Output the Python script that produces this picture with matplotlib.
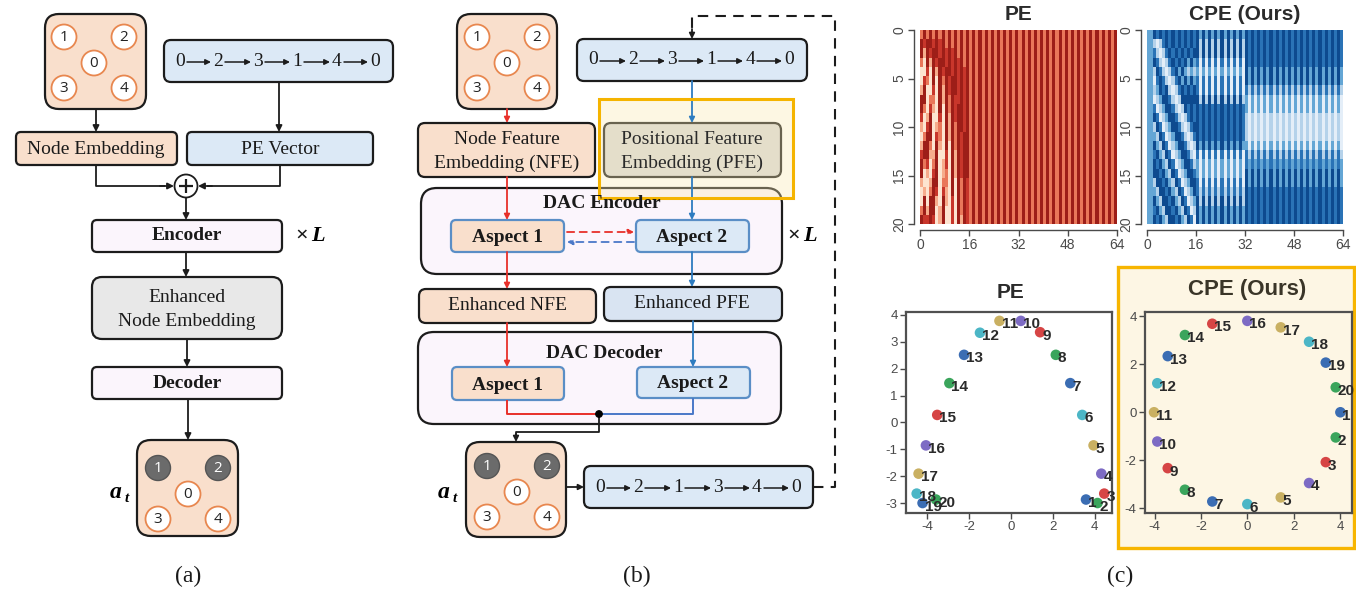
import matplotlib
matplotlib.use('Agg')
import matplotlib.pyplot as plt
from matplotlib.patches import FancyBboxPatch, Circle, Rectangle
from matplotlib.colors import ListedColormap
import numpy as np

plt.rcParams['axes.unicode_minus'] = False

# ---------------- data ----------------
graph_labels = ['1', '2', '0', '3', '4']
visited_labels = ['1', '2']
route_in = ['0', '2', '3', '1', '4', '0']
route_out = ['0', '2', '1', '3', '4', '0']

# PE heatmap (levels 0=light .. 4=dark), first 16 columns per row
pe_left_rows = [
    "2424242424242424", "4344343424242424", "4143443434342424", "2041434434343424",
    "0030414344343434", "0320404243443434", "1400304143443434", "4402204142433434",
    "4203104042434434", "3014003041434434", "1034012041424434", "0244032041424344",
    "1442041040424344", "3441140030414344", "4230240130414344", "4010340120414344",
    "1001440220404243", "0102430310404243", "0404410410304243", "2414401400304243",
    "4334301400304143",
]
pe_right_pair = "24"          # columns 16..63 stripe pair

# CPE heatmap
cpe_first_cols = "22"
cpe_left_rows = [
    "43434343434343", "10134343434343", "31013434343434", "43101343434242",
    "14310134242121", "03431013424242", "12434101343434", "01244310144444",
    "30124431014343", "43012443101343", "14301244310134", "21430124431013",
    "42143012443101", "34214301244310", "43421430124431", "44342143012443",
    "14434214301244", "21443421430124", "42144342143012", "34214434214301",
    "43421443421430",
]
cpe_mid_pairs = ["42", "41", "41", "30", "20", "30", "30", "41", "43", "43", "43",
                 "43", "42", "30", "20", "20", "30", "31", "41", "42", "42"]
cpe_right_pairs = ["43", "43", "43", "43", "42", "42", "31", "20", "20", "10", "10",
                   "10", "20", "31", "32", "42", "42", "43", "43", "43", "43"]

point_ids = list(range(1, 21))
pe_x = [3.59, 4.14, 4.46, 4.32, 3.95, 3.41, 2.84, 2.15, 1.40, 0.48,
        -0.54, -1.47, -2.23, -2.93, -3.51, -4.05, -4.40, -4.49, -4.21, -3.57]
pe_y = [-2.86, -2.99, -2.64, -1.90, -0.85, 0.28, 1.46, 2.51, 3.35, 3.77,
        3.77, 3.33, 2.51, 1.46, 0.28, -0.85, -1.90, -2.64, -2.99, -2.86]
cpe_x = [4.01, 3.81, 3.38, 2.66, 1.44, 0.00, -1.51, -2.69, -3.43, -3.88,
         -4.02, -3.88, -3.43, -2.69, -1.51, 0.00, 1.44, 2.66, 3.38, 3.81]
cpe_y = [0.00, -1.05, -2.08, -2.95, -3.55, -3.83, -3.72, -3.23, -2.33, -1.22,
         0.00, 1.21, 2.34, 3.22, 3.69, 3.81, 3.54, 2.94, 2.07, 1.04]

# ---------------- styles ----------------
PEACH = '#f9dfcc'
LBLUE = '#dce9f6'
LAV = '#fbf5fc'
GRAY = '#e8e8e8'
EDGE = '#1c1c1c'
RED = '#e8302a'
BLUE = '#2e7cc0'
ABLUE = '#5a8ec6'
SERIF = 'Liberation Serif'
SANS = 'Liberation Sans'
NODESANS = 'Open Sans'
palette = ['#3b6db3', '#3ba55c', '#d64545', '#7d6bc4', '#c9b062', '#4cb6c6']

W, H = 1356, 592
fig = plt.figure(figsize=(W / 100, H / 100), dpi=100)
ax = fig.add_axes([0, 0, 1, 1])
ax.set_xlim(0, W)
ax.set_ylim(H, 0)
ax.axis('off')


def rbox(x0, y0, x1, y1, fc, ec=EDGE, lw=1.6, r=7, z=2):
    p = FancyBboxPatch((x0, y0), x1 - x0, y1 - y0,
                       boxstyle=f"round,pad=0,rounding_size={r}",
                       fc=fc, ec=ec, lw=lw, zorder=z)
    ax.add_patch(p)


def arrow(x0, y0, x1, y1, color=EDGE, lw=1.3, ls='-', ms=9, z=5):
    ax.annotate('', xy=(x1, y1), xytext=(x0, y0),
                arrowprops=dict(arrowstyle='-|>', color=color, lw=lw,
                                mutation_scale=ms, shrinkA=0, shrinkB=0,
                                linestyle=ls), zorder=z)


def line(xs, ys, color=EDGE, lw=1.3, ls='-', z=5):
    ax.plot(xs, ys, color=color, lw=lw, ls=ls, zorder=z, solid_capstyle='butt')


def txt(x, y, s, size=14, weight='normal', family=SERIF, color='#1a1a1a', style='normal', z=7):
    ax.text(x, y, s, fontsize=size, fontweight=weight, family=family, color=color,
            ha='center', va='center', style=style, zorder=z)


def node(x, y, label, visited=False):
    if visited:
        ax.add_patch(Circle((x, y), 12.5, fc='#6b6b6b', ec='#555555', lw=1.0, zorder=4))
        txt(x, y + 0.5, label, size=11, family=NODESANS, color='white')
    else:
        ax.add_patch(Circle((x, y), 12.5, fc='white', ec='#e8874f', lw=1.3, zorder=4))
        txt(x, y + 0.5, label, size=11, family=NODESANS, color='#222222')


def graph(cx, cy, visited=()):
    offs = [(-30, -26), (30, -26), (0, 0), (-30, 25), (30, 25)]
    for lab, (dx, dy) in zip(graph_labels, offs):
        node(cx + dx, cy + dy, lab, lab in visited)


def seq(xs, y, labels):
    for i, (x, lab) in enumerate(zip(xs, labels)):
        txt(x, y, lab, size=14)
        if i < len(xs) - 1:
            arrow(x + 7, y + 1, xs[i + 1] - 7, y + 1, lw=1.1, ms=8)


def at_label(x, y):
    ax.text(x, y, 'a', fontsize=17, fontweight='bold', style='italic', family=SERIF,
            ha='center', va='center', zorder=7)
    ax.text(x + 11, y + 7, 't', fontsize=11, fontweight='bold', style='italic', family=SERIF,
            ha='center', va='center', zorder=7)


def times_L(x, y):
    txt(x, y, '×', size=16, weight='bold')
    ax.text(x + 16, y, 'L', fontsize=16, fontweight='bold', style='italic', family=SERIF,
            ha='center', va='center', zorder=7)


# ---------------- panel (a) ----------------
rbox(45, 14, 146, 109, PEACH, r=14)
graph(94, 63)
rbox(164, 40, 393, 82, LBLUE)
seq([180, 218, 258, 297, 337, 375], 61, route_in)
arrow(96, 109, 96, 132)
rbox(16, 132, 177, 165, PEACH, r=5)
txt(96, 149, 'Node Embedding')
rbox(187, 132, 373, 165, LBLUE, r=5)
txt(280, 149, 'PE Vector')
arrow(279, 82, 279, 132)
line([96, 96, 165], [165, 186, 186])
arrow(160, 186, 174, 186)
line([280, 280, 207], [165, 186, 186])
arrow(212, 186, 198, 186)
ax.add_patch(Circle((186, 186), 11.5, fc='white', ec=EDGE, lw=1.3, zorder=5))
line([179, 193], [186, 186], lw=1.6, z=6)
line([186, 186], [179, 193], lw=1.6, z=6)
arrow(186, 198, 186, 220)
rbox(92, 220, 282, 252, LAV, r=5)
txt(187, 236, 'Encoder', weight='bold')
times_L(302, 236)
arrow(186, 252, 186, 277)
rbox(92, 277, 282, 339, GRAY, r=10)
txt(187, 297, 'Enhanced')
txt(187, 322, 'Node Embedding')
arrow(187, 339, 187, 367)
rbox(92, 367, 282, 399, LAV, r=5)
txt(187, 384, 'Decoder', weight='bold')
arrow(188, 399, 188, 440)
rbox(137, 440, 238, 536, PEACH, r=14)
graph(188, 494, visited=visited_labels)
at_label(116, 492)
txt(188, 576, '(a)', size=17)

# ---------------- panel (b) ----------------
rbox(457, 14, 557, 109, PEACH, r=14)
graph(507, 63)
rbox(577, 39, 807, 81, LBLUE)
seq([593, 633, 672, 711, 750, 789], 60, route_in)
line([813, 835, 835, 692, 692], [487, 487, 16, 16, 31], ls=(0, (5, 3.5)), lw=1.5)
arrow(692, 29, 692, 39, ms=8)
arrow(507, 109, 507, 123, color=RED, ms=8)
rbox(418, 123, 595, 177, PEACH)
txt(507, 139, 'Node Feature')
txt(507, 163, 'Embedding (NFE)')
rbox(604, 123, 781, 177, '#d9d9d9')
txt(692, 139, 'Positional Feature', color='#2a2a2a')
txt(692, 163, 'Embedding (PFE)', color='#2a2a2a')
arrow(692, 81, 692, 123, color=BLUE, ms=8)
rbox(421, 188, 782, 274, LAV, r=16)
txt(602, 204, 'DAC Encoder', weight='bold')
rbox(451, 220, 564, 252, PEACH, ec=ABLUE, r=5)
txt(507, 237, 'Aspect 1', weight='bold')
rbox(636, 220, 749, 252, LBLUE, ec=ABLUE, r=5)
txt(692, 237, 'Aspect 2', weight='bold')
arrow(507, 177, 507, 220, color=RED, ms=8)
arrow(692, 177, 692, 220, color=BLUE, ms=8)
arrow(567, 232, 634, 232, color=RED, ls=(0, (4, 3)), ms=8)
arrow(634, 242, 567, 242, color='#4a78c8', ls=(0, (4, 3)), ms=8)
times_L(794, 236)
arrow(507, 252, 507, 289, color=RED, ms=8)
arrow(692, 252, 692, 287, color=BLUE, ms=8)
rbox(419, 289, 596, 323, PEACH)
txt(507, 306, 'Enhanced NFE')
rbox(604, 287, 782, 321, '#d9e4f2')
txt(692, 304, 'Enhanced PFE')
rbox(418, 332, 781, 424, LAV, r=16)
txt(604, 353, 'DAC Decoder', weight='bold')
rbox(452, 367, 564, 400, PEACH, ec=ABLUE, r=5)
txt(508, 385, 'Aspect 1', weight='bold')
rbox(637, 367, 750, 398, LBLUE, ec=ABLUE, r=5)
txt(693, 383, 'Aspect 2', weight='bold')
arrow(507, 323, 507, 367, color=RED, ms=8)
arrow(693, 321, 693, 367, color=BLUE, ms=8)
line([507, 507, 599], [400, 414, 414], color=RED, lw=1.4)
line([693, 693, 599], [398, 414, 414], color='#4a78c8', lw=1.4)
ax.add_patch(Circle((599, 414), 3.2, fc='black', ec='black', zorder=8))
line([599, 599, 516, 516], [414, 432, 432, 436])
arrow(516, 434, 516, 442, ms=8)
rbox(466, 442, 566, 537, PEACH, r=14)
graph(517, 492, visited=visited_labels)
at_label(444, 492)
arrow(566, 487, 584, 487, ms=8)
rbox(584, 466, 813, 508, LBLUE)
seq([600, 638, 678, 718, 757, 796], 487, route_out)
ax.add_patch(Rectangle((599, 99), 194, 99, fc='#fbe9b0', ec='none', alpha=0.35, zorder=3))
ax.add_patch(Rectangle((599, 99), 194, 99, fill=False, ec='#f5b400', lw=2.2, zorder=6))
txt(637, 576, '(b)', size=17)

# ---------------- panel (c) frame + titles ----------------
ax.add_patch(Rectangle((1118, 267), 236, 281, fc='#fdf6e4', ec='#f7b500', lw=2.4, zorder=1))
txt(1120, 576, '(c)', size=17)
txt(1018, 15, 'PE', size=15, weight='bold', family=SANS, color='#2b2b2b')
txt(1245, 15, 'CPE (Ours)', size=15, weight='bold', family=SANS, color='#2b2b2b')
txt(1010, 293, 'PE', size=15, weight='bold', family=SANS, color='#2b2b2b')
txt(1247, 290, 'CPE (Ours)', size=16, weight='bold', family=SANS, color='#3a3528')


def px_axes(x0, y0, x1, y1):
    return fig.add_axes([x0 / W, 1 - y1 / H, (x1 - x0) / W, (y1 - y0) / H])


TICKC = '#4a4a4a'

# heatmaps
pe_rows = [r + pe_right_pair * 24 for r in pe_left_rows]
pe_mat = np.array([[int(c) for c in r] for r in pe_rows])
cpe_rows = [cpe_first_cols + l + m * 8 + rr * 16
            for l, m, rr in zip(cpe_left_rows, cpe_mid_pairs, cpe_right_pairs)]
cpe_mat = np.array([[int(c) for c in r] for r in cpe_rows])

reds = ListedColormap(['#fde4d0', '#f6ac8c', '#e9775a', '#c8362b', '#9d1e18'])
blues = ListedColormap(['#e4eef8', '#b5d2ea', '#64a6d5', '#2a73b6', '#0d4a8f'])

for (x0, x1), mat, cmap in [((920, 1117), pe_mat, reds), ((1147, 1343), cpe_mat, blues)]:
    hx = px_axes(x0, 30, x1, 224)
    hx.imshow(mat, cmap=cmap, vmin=0, vmax=4, aspect='auto', interpolation='nearest',
              extent=(0, 64, 20, 0))
    hx.set_xlim(0, 64)
    hx.set_ylim(20, 0)
    for s in ['top', 'right']:
        hx.spines[s].set_visible(False)
    hx.spines['left'].set_position(('outward', 4))
    hx.spines['bottom'].set_position(('outward', 4))
    hx.spines['left'].set_bounds(0, 20)
    hx.spines['bottom'].set_bounds(0, 64)
    for s in ['left', 'bottom']:
        hx.spines[s].set_color(TICKC)
        hx.spines[s].set_linewidth(1.0)
    hx.set_xticks([0, 16, 32, 48, 64])
    hx.set_yticks([0, 5, 10, 15, 20])
    hx.tick_params(colors=TICKC, labelcolor=TICKC, labelsize=10, length=4, width=1.0, pad=2)
    for lab in hx.get_yticklabels():
        lab.set_rotation(90)
        lab.set_va('center')
        lab.set_family(SANS)
    for lab in hx.get_xticklabels():
        lab.set_family(SANS)

# scatter plots
scat = [((906, 312, 1112, 513), pe_x, pe_y, (-5.0, 4.83), (-3.36, 4.1), [-4, -2, 0, 2, 4],
         [-3, -2, -1, 0, 1, 2, 3, 4], 'white'),
        ((1145, 312, 1352, 513), cpe_x, cpe_y, (-4.41, 4.51), (-4.2, 4.18), [-4, -2, 0, 2, 4],
         [-4, -2, 0, 2, 4], '#fdf6e4')]
for (x0, y0, x1, y1), xs, ys, xl, yl, xt, yt, bg in scat:
    sx = px_axes(x0, y0, x1, y1)
    sx.set_facecolor(bg)
    cols = [palette[(i - 1) % 6] for i in point_ids]
    sx.scatter(xs, ys, s=58, c=cols, zorder=3, edgecolors='none')
    for i, x, y in zip(point_ids, xs, ys):
        sx.annotate(str(i), (x, y), xytext=(1.5, -2.5), textcoords='offset points',
                    ha='left', va='center', fontsize=11, fontweight='bold',
                    family=SANS, color='#2a2a2a', zorder=4)
    sx.set_xlim(*xl)
    sx.set_ylim(*yl)
    sx.set_xticks(xt)
    sx.set_yticks(yt)
    for s in sx.spines.values():
        s.set_color('#505050')
        s.set_linewidth(1.6)
    sx.tick_params(colors=TICKC, labelcolor=TICKC, labelsize=9.5, length=4, width=1.0, pad=2)
    for lab in sx.get_xticklabels() + sx.get_yticklabels():
        lab.set_family(SANS)

fig.savefig('out.png', dpi=100, facecolor='white')
